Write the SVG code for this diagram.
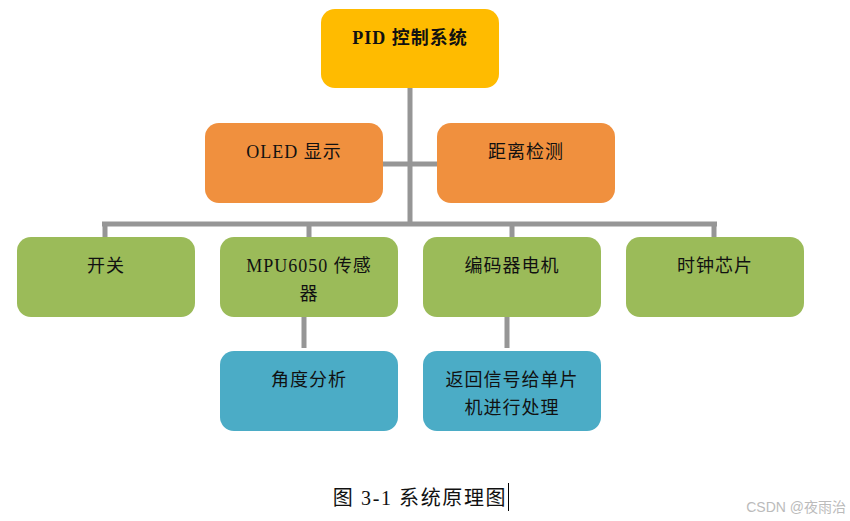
<svg xmlns="http://www.w3.org/2000/svg" width="850" height="521" viewBox="0 0 850 521">
<style>
.t{font-family:"Liberation Serif","Noto Sans CJK SC",serif;font-size:18px;fill:#111;text-anchor:middle;letter-spacing:1px}
.b{font-weight:bold}
.c{fill:none;stroke:#969696;stroke-width:5}
.y{fill:#FFBB00}
.o{fill:#F0903E}
.g{fill:#9BBB59}
.u{fill:#4BACC6}
</style>
<rect width="850" height="521" fill="#fff"/>
<g id="connectors">
<path class="c" d="M410,88V224M383,164H437M102,224H717M105,224V238M309,224V238M512,224V238M714,224V238M304,308V348M507,308V348"/>
</g>
<g id="pid"><rect class="y" x="321" y="9" width="178" height="79" rx="14"/><text class="t b" x="410" y="44">PID 控制系统</text></g>
<g id="oled"><rect class="o" x="205" y="123" width="178" height="80" rx="14"/><text class="t" x="294" y="158">OLED 显示</text></g>
<g id="distance"><rect class="o" x="437" y="123" width="178" height="80" rx="14"/><text class="t" x="526" y="158">距离检测</text></g>
<g id="switch"><rect class="g" x="17" y="237" width="178" height="80" rx="14"/><text class="t" x="106" y="272">开关</text></g>
<g id="mpu"><rect class="g" x="220" y="237" width="178" height="80" rx="14"/><text class="t" x="309" y="272">MPU6050 传感</text><text class="t" x="309" y="300">器</text></g>
<g id="encoder"><rect class="g" x="423" y="237" width="178" height="80" rx="14"/><text class="t" x="512" y="272">编码器电机</text></g>
<g id="clock"><rect class="g" x="626" y="237" width="178" height="80" rx="14"/><text class="t" x="715" y="272">时钟芯片</text></g>
<g id="angle"><rect class="u" x="220" y="351" width="178" height="80" rx="14"/><text class="t" x="309" y="386">角度分析</text></g>
<g id="feedback"><rect class="u" x="423" y="351" width="178" height="80" rx="14"/><text class="t" x="512" y="386">返回信号给单片</text><text class="t" x="512" y="414">机进行处理</text></g>
<text class="t" x="420" y="505" style="font-size:20px;letter-spacing:1.6px">图 3-1 系统原理图</text>
<line x1="508.5" y1="483" x2="508.5" y2="511" stroke="#000" stroke-width="1"/>
<text x="846" y="512" style="font-family:'Liberation Sans','Noto Sans CJK SC',sans-serif;font-size:14px;fill:#bbbbbb;text-anchor:end">CSDN @夜雨治</text>
</svg>
